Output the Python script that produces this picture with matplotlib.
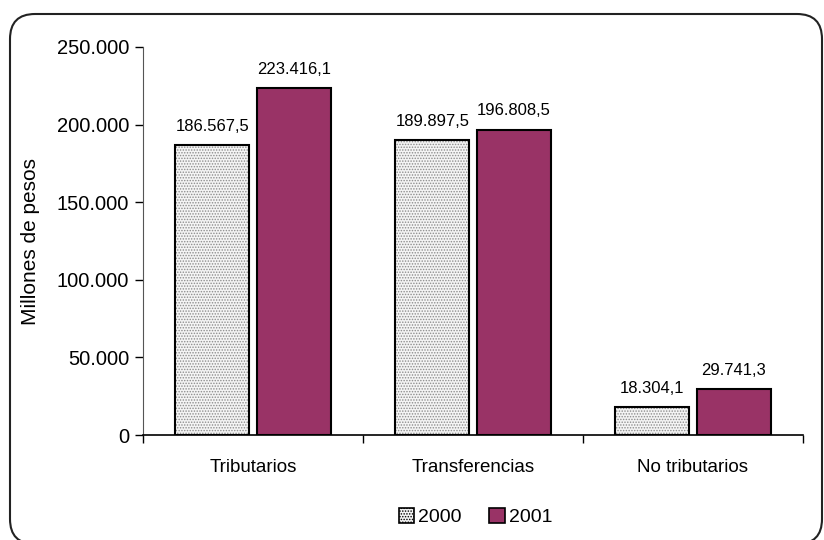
import matplotlib
matplotlib.use("Agg")
import matplotlib.pyplot as plt
import matplotlib.patches as patches
import matplotlib.transforms as mtransforms
import numpy as np

categories = ["Tributarios", "Transferencias", "No tributarios"]
years = ["2000", "2001"]
values_2000 = [186567.5, 189897.5, 18304.1]
values_2001 = [223416.1, 196808.5, 29741.3]
yticks = [0, 50000, 100000, 150000, 200000, 250000]


def fmt_es(v, dec=1):
    s = f"{v:,.{dec}f}"
    return s.replace(",", "X").replace(".", ",").replace("X", ".")


plt.rcParams["font.family"] = ["Liberation Sans", "DejaVu Sans"]
plt.rcParams["hatch.color"] = "#8c8c8c"
plt.rcParams["hatch.linewidth"] = 0.7

fig = plt.figure(figsize=(8.24, 5.4), dpi=100)
ax = fig.add_axes([0.1735, 0.1944, 0.801, 0.7186])

# rounded frame around the chart (pixel coords)
fig.patches.append(
    patches.FancyBboxPatch(
        (10, -4), 812, 530,
        boxstyle="round,pad=0.0,rounding_size=25",
        transform=mtransforms.IdentityTransform(), fill=False,
        edgecolor="#222222", linewidth=1.5, clip_on=False,
    )
)

x = np.arange(len(categories))
w = 0.335
off = 0.185

# 2000: dotted light fill
ax.bar(x - off, values_2000, w, facecolor="#f4f4f4", edgecolor="#8c8c8c",
       hatch="......", linewidth=0, zorder=2)
b0 = ax.bar(x - off, values_2000, w, facecolor="none", edgecolor="black",
            linewidth=1.5, zorder=3, label=years[0])
b1 = ax.bar(x + off, values_2001, w, facecolor="#993366", edgecolor="black",
            linewidth=1.5, zorder=3, label=years[1])

for bars, vals in [(b0, values_2000), (b1, values_2001)]:
    for rect, v in zip(bars, vals):
        ax.annotate(fmt_es(v), (rect.get_x() + rect.get_width() / 2, v),
                    xytext=(0, 8), textcoords="offset points",
                    ha="center", va="bottom", fontsize=12)

ax.set_xlim(-0.5, 2.5)
ax.set_ylim(0, 250000)
ax.set_yticks(yticks)
ax.set_yticklabels([fmt_es(t, 0) for t in yticks], fontsize=14.5)
ax.set_xticks(x)
ax.set_xticklabels(categories, fontsize=13.5)
ax.tick_params(axis="x", length=0, pad=17)
ax.set_xticks([-0.5, 0.5, 1.5, 2.5], minor=True)
ax.tick_params(axis="x", which="minor", length=6, width=1)
ax.tick_params(axis="y", length=6, width=1, pad=4)
ax.spines["top"].set_visible(False)
ax.spines["right"].set_visible(False)
ax.spines["left"].set_color("#555555")
ax.spines["bottom"].set_linewidth(1.2)
ax.set_ylabel("Millones de pesos", fontsize=15, labelpad=12)

# legend handles
h0 = patches.Rectangle((0, 0), 1, 1, facecolor="#f4f4f4", edgecolor="black",
                       hatch="......", linewidth=1.2)
h1 = patches.Rectangle((0, 0), 1, 1, facecolor="#993366", edgecolor="black",
                       linewidth=1.2)
fig.legend([h0, h1], years, loc="center", bbox_to_anchor=(0.577, 0.043),
           ncol=2, frameon=False, fontsize=14, handlelength=0.8,
           handleheight=0.8, handletextpad=0.2, columnspacing=1.4)

fig.savefig("out.png", dpi=100)
